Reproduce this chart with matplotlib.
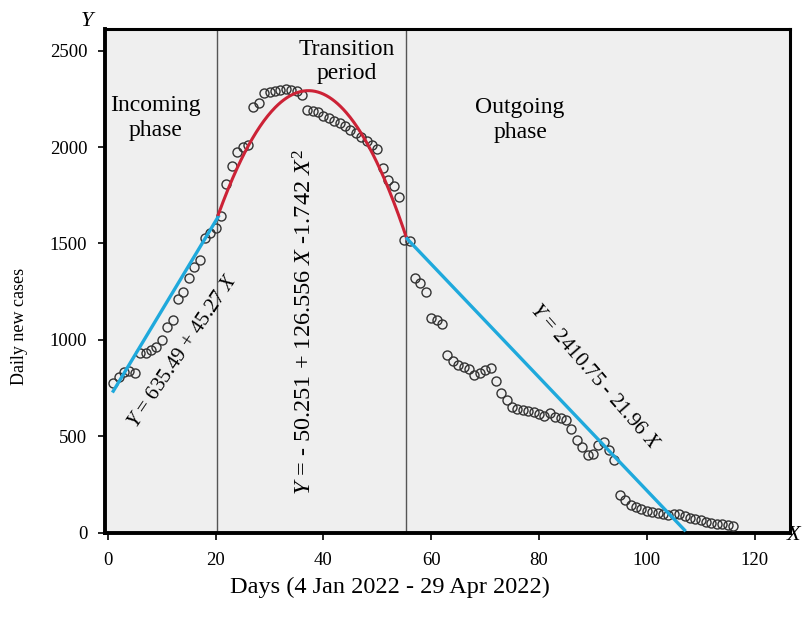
import matplotlib
matplotlib.use("Agg")
import matplotlib.pyplot as plt
import numpy as np

# Données (jour 1 = 4 janvier 2022)
days = np.arange(1, 117)
cases = [
    # phase entrante (jours 1-20)
    777, 808, 834, 840, 829, 930, 935, 950, 965, 1000,
    1067, 1105, 1210, 1250, 1320, 1380, 1415, 1530, 1555, 1580,
    # période de transition (jours 21-55)
    1640, 1810, 1900, 1975, 2000, 2010, 2205, 2230, 2280, 2285,
    2290, 2295, 2300, 2295, 2290, 2270, 2190, 2185, 2180, 2160,
    2150, 2135, 2125, 2110, 2090, 2070, 2050, 2030, 2010, 1990,
    1890, 1830, 1800, 1740, 1520,
    # phase sortante (jours 56-116)
    1515, 1320, 1295, 1250, 1115, 1105, 1085, 920, 890, 870,
    860, 850, 820, 830, 845, 855, 785, 725, 690, 655,
    640, 635, 630, 625, 615, 605, 620, 600, 595, 585,
    540, 482, 447, 404, 410, 455, 473, 430, 378, 197,
    171, 145, 132, 125, 115, 110, 105, 100, 95, 100,
    98, 90, 80, 70, 65, 58, 52, 48, 45, 40,
    35,
]

# Limites des phases
phase_limits = [20.3, 55.4]

# Droites de tendance (extrémités)
fit1_x = [1, 20.5]
fit1_y = [735, 1640]
fit3_x = [55.5, 107]
fit3_y = [1525, 15]
# Parabole de la période de transition : sommet (h, k), courbure p
par_h, par_k, par_p = 37.2, 2292, 2.3
par_x0, par_x1 = 20.5, 55.5

plt.rcParams['font.family'] = ['Liberation Serif', 'DejaVu Serif']
plt.rcParams['mathtext.fontset'] = 'custom'
plt.rcParams['mathtext.rm'] = 'Liberation Serif'
plt.rcParams['mathtext.it'] = 'Liberation Serif:italic'

fig = plt.figure(figsize=(8.03, 6.19), dpi=100)
ax = fig.add_axes([0.131, 0.139, 0.853, 0.814])
ax.set_facecolor('#efefef')

# Points observés
ax.plot(days, cases, 'o', mfc='none', mec='#333333', ms=6.5, mew=1.0, zorder=3)

# Séparations des phases
for xl in phase_limits:
    ax.axvline(xl, color='#555555', lw=1.0, zorder=2)

# Courbes d'ajustement
ax.plot(fit1_x, fit1_y, color='#1fa9dc', lw=2.4, zorder=4)
xp = np.linspace(par_x0, par_x1, 200)
ax.plot(xp, par_k - par_p * (xp - par_h) ** 2, color='#cc2236', lw=2.2, zorder=4)
ax.plot(fit3_x, fit3_y, color='#1fa9dc', lw=2.4, zorder=4)

# Textes des phases
ax.text(8.8, 2150, "Incoming\nphase", ha='center', va='center', fontsize=17, linespacing=1.2)
ax.text(44.4, 2445, "Transition\nperiod", ha='center', va='center', fontsize=17, linespacing=1.2)
ax.text(76.5, 2140, "Outgoing\nphase", ha='center', va='center', fontsize=17, linespacing=1.2)

# Équations
ax.text(14.0, 943, r"$Y$ = 635.49 + 45.27 $X$", ha='center', va='center',
        rotation=56, rotation_mode='anchor', fontsize=15)
ax.text(36.6, 1095, r"$Y$ = - 50.251 + 126.556 $X$ -1.742 $X^2$", ha='center', va='center',
        rotation=90, rotation_mode='anchor', fontsize=17.5)
ax.text(90.3, 808, r"$Y$ = 2410.75 - 21.96 $X$", ha='center', va='center',
        rotation=-49, rotation_mode='anchor', fontsize=15)

ax.set_xlim(-0.5, 126.6)
ax.set_ylim(0, 2611)
ax.set_xticks([0, 20, 40, 60, 80, 100, 120])
ax.set_yticks([0, 500, 1000, 1500, 2000, 2500])
ax.tick_params(axis='both', direction='out', length=5, width=1.2, labelsize=13.5)
ax.tick_params(axis='x', pad=9)
ax.tick_params(axis='y', pad=8)

for s in ax.spines.values():
    s.set_linewidth(2.2)
    s.set_color('black')
ax.spines['left'].set_linewidth(2.8)
ax.spines['bottom'].set_linewidth(2.8)

ax.set_xlabel("Days (4 Jan 2022 - 29 Apr 2022)", fontsize=17.5)
ax.xaxis.set_label_coords(0.416, -0.088)
ax.set_ylabel("Daily new cases", fontsize=13)
ax.yaxis.set_label_coords(-0.113, 0.41)

# Noms des axes
fig.text(0.11, 0.965, r"$Y$", fontsize=16, ha='center', va='center')
fig.text(0.99, 0.135, r"$X$", fontsize=16, ha='center', va='center')

plt.savefig("out.png", dpi=100)
